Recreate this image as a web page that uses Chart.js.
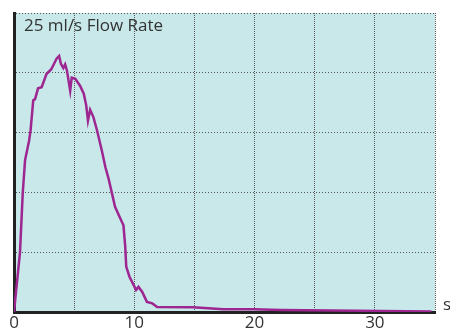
<!DOCTYPE html>
<html>
<head>
<meta charset="utf-8">
<script src="https://cdn.jsdelivr.net/npm/chart.js@4"></script>
<style>
    html, body { margin: 0; padding: 0; background: #fff; }
    #wrap { width: 450px; height: 335px; }
</style>
</head>
<body>
<div id="wrap"><canvas id="flowChart"></canvas></div>
<script>
// Data (time in s, flow in ml/s)
const timeSec = [0, 0.5, 0.73, 0.92, 1.25, 1.38, 1.6, 1.75, 2.0, 2.3, 2.7, 3.1, 3.55, 3.75, 3.9, 4.1, 4.25, 4.4, 4.67, 4.8, 5.1, 5.5, 5.8, 6.0, 6.15, 6.33, 6.6, 6.9, 7.3, 7.6, 7.85, 8.15, 8.4, 8.85, 9.1, 9.25, 9.33, 9.6, 9.95, 10.15, 10.35, 10.65, 11.05, 11.5, 11.9, 14.9, 17.4, 19.9, 22.2, 34.7];
const flowRate = [0, 5.0, 10.0, 12.7, 14.3, 15.2, 17.7, 17.8, 18.7, 18.8, 19.9, 20.3, 21.2, 21.4, 20.75, 20.4, 20.7, 20.2, 18.5, 19.6, 19.5, 18.9, 18.25, 17.3, 16.0, 16.9, 16.3, 15.2, 13.5, 12.1, 11.2, 9.9, 8.8, 7.8, 7.25, 5.45, 3.8, 2.95, 2.25, 1.85, 2.1, 1.7, 0.85, 0.72, 0.42, 0.4, 0.22, 0.22, 0.17, 0.05];
const xTickLabels = ['0', '10', '20', '30'];

const colors = {
    plotBg: '#c8e8ea',
    line: '#9d2690',
    grid: '#555',
    axis: '#222',
    text: '#333'
};

// Plot background + in-chart labels
const decorPlugin = {
    id: 'decor',
    beforeDraw(chart) {
        const { ctx, chartArea: a } = chart;
        ctx.save();
        ctx.fillStyle = colors.plotBg;
        ctx.fillRect(a.left, a.top, a.right - a.left, a.bottom - a.top);
        ctx.restore();
    },
    afterDraw(chart) {
        const { ctx, chartArea: a } = chart;
        ctx.save();
        ctx.fillStyle = colors.text;
        ctx.font = '17px "Open Sans", sans-serif';
        ctx.textBaseline = 'middle';
        ctx.fillText('25 ml/s Flow Rate', a.left + 10, a.top + 13);
        ctx.fillText('s', a.right + 8, a.bottom - 7);
        ctx.restore();
    }
};

const ctx = document.getElementById('flowChart').getContext('2d');
const flowChart = new Chart(ctx, {
    type: 'line',
    data: {
        datasets: [{
            data: timeSec.map((t, i) => ({ x: t, y: flowRate[i] })),
            borderColor: colors.line,
            borderWidth: 2.5,
            pointRadius: 0,
            tension: 0,
            fill: false
        }]
    },
    options: {
        responsive: true,
        maintainAspectRatio: false,
        animation: false,
        layout: {
            padding: { left: 14, top: 13, right: 15, bottom: 0 }
        },
        plugins: {
            legend: { display: false },
            tooltip: { enabled: false }
        },
        scales: {
            x: {
                type: 'linear',
                min: 0,
                max: 35,
                grid: {
                    color: colors.grid,
                    lineWidth: 1,
                    drawTicks: false
                },
                border: {
                    color: colors.axis,
                    width: 3,
                    dash: [1, 1]
                },
                ticks: {
                    stepSize: 5,
                    padding: 3,
                    color: colors.text,
                    font: { family: '"Open Sans", sans-serif', size: 17, lineHeight: 1 },
                    maxRotation: 0,
                    callback: (v) => (v % 10 === 0 ? xTickLabels[v / 10] : '')
                }
            },
            y: {
                min: 0,
                max: 25,
                grid: {
                    color: colors.grid,
                    lineWidth: 1,
                    drawTicks: false
                },
                border: {
                    color: colors.axis,
                    width: 3,
                    dash: [1, 2]
                },
                ticks: {
                    stepSize: 5,
                    display: false
                }
            }
        }
    },
    plugins: [decorPlugin]
});
</script>
</body>
</html>
